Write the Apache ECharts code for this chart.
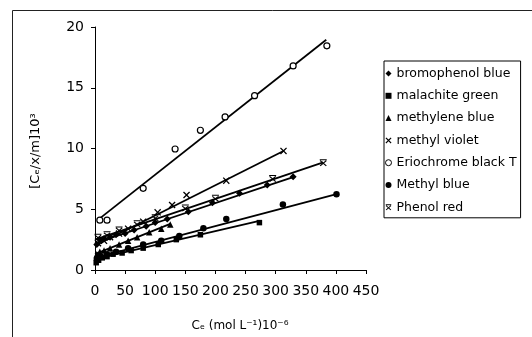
<!DOCTYPE html>
<html>
<head>
<meta charset="utf-8">
<script src="https://cdn.jsdelivr.net/npm/echarts@6/dist/echarts.min.js"></script>
<style>
html,body{margin:0;padding:0;background:#fff;}
#chart{width:532px;height:337px;}
</style>
</head>
<body>
<div id="chart"></div>
<script>
// ---- axis ticks ----
const xTicks = [0, 50, 100, 150, 200, 250, 300, 350, 400, 450];
const yTicks = [0, 5, 10, 15, 20];

// ---- series names ----
const seriesNames = ['bromophenol blue', 'malachite green', 'methylene blue', 'methyl violet', 'Eriochrome black T', 'Methyl blue', 'Phenol red'];

// ---- data ----
const bromoX = [3, 8, 15, 25, 35, 50, 65, 85, 100, 120, 155, 195, 240, 286, 329];
const bromoY = [2.1, 2.5, 2.6, 2.7, 2.9, 3.0, 3.3, 3.6, 3.9, 4.2, 4.8, 5.54, 6.31, 7.0, 7.68];
const bromoFitX = [0, 329];
const bromoFitY = [2.2, 7.65];

const malachiteX = [2, 6, 12, 20, 30, 45, 60, 80, 105, 135, 175, 273];
const malachiteY = [0.6, 0.8, 1.0, 1.1, 1.3, 1.4, 1.6, 1.8, 2.1, 2.5, 2.9, 3.9];
const malachiteFitX = [0, 273];
const malachiteFitY = [0.9, 4.05];

const methyleneX = [3, 8, 15, 25, 40, 55, 70, 90, 110, 125];
const methyleneY = [1.3, 1.5, 1.6, 1.8, 2.1, 2.4, 2.7, 3.1, 3.4, 3.75];
const methyleneFitX = [0, 125];
const methyleneFitY = [1.3, 3.8];

const violetX = [5, 15, 25, 40, 55, 80, 104, 128, 152, 218, 313];
const violetY = [2.2, 2.4, 2.7, 3.0, 3.4, 3.98, 4.75, 5.35, 6.17, 7.35, 9.8];
const violetFitX = [0, 313];
const violetFitY = [2.0, 9.8];

const eriochromeX = [8, 20, 80, 133, 175, 216, 265, 329, 385];
const eriochromeY = [4.1, 4.1, 6.72, 9.96, 11.5, 12.6, 14.35, 16.8, 18.45];
const eriochromeFitX = [8, 384];
const eriochromeFitY = [4.25, 18.95];

const mblueX = [3, 10, 20, 35, 55, 80, 110, 140, 180, 218, 312, 401];
const mblueY = [0.9, 1.1, 1.3, 1.5, 1.8, 2.1, 2.4, 2.8, 3.43, 4.2, 5.4, 6.23];
const mblueFitX = [0, 401];
const mblueFitY = [1.0, 6.25];

const phenolX = [5, 20, 40, 70, 100, 150, 200, 295, 379];
const phenolY = [2.7, 2.9, 3.3, 3.8, 4.3, 5.1, 5.9, 7.54, 8.83];
const phenolFitX = [0, 379];
const phenolFitY = [2.5, 8.85];

// ---- symbols ----
const crossPath = 'path://M0,1.3L1.3,0L5,3.7L8.7,0L10,1.3L6.3,5L10,8.7L8.7,10L5,6.3L1.3,10L0,8.7L3.7,5Z';
const starPath = 'path://M0,0L10,0L10,1.6L0,1.6Z M0,2.9L1.2,1.8L5,5.2L8.8,1.8L10,2.9L6.2,6.3L10,9.8L8.8,10.9L5,7.5L1.2,10.9L0,9.8L3.8,6.3Z';

const pair = (xs, ys) => xs.map((x, i) => [x, ys[i]]);

const defs = [
  {name: seriesNames[0], x: bromoX, y: bromoY, fx: bromoFitX, fy: bromoFitY, symbol: 'diamond', size: 7},
  {name: seriesNames[1], x: malachiteX, y: malachiteY, fx: malachiteFitX, fy: malachiteFitY, symbol: 'rect', size: 5.5},
  {name: seriesNames[2], x: methyleneX, y: methyleneY, fx: methyleneFitX, fy: methyleneFitY, symbol: 'triangle', size: 6.5},
  {name: seriesNames[3], x: violetX, y: violetY, fx: violetFitX, fy: violetFitY, symbol: crossPath, size: 7},
  {name: seriesNames[4], x: eriochromeX, y: eriochromeY, fx: eriochromeFitX, fy: eriochromeFitY, symbol: 'circle', size: 6, empty: true},
  {name: seriesNames[5], x: mblueX, y: mblueY, fx: mblueFitX, fy: mblueFitY, symbol: 'circle', size: 6.5},
  {name: seriesNames[6], x: phenolX, y: phenolY, fx: phenolFitX, fy: phenolFitY, symbol: starPath, size: 7}
];

const series = [];
defs.forEach(d => {
  series.push({
    name: 'fit ' + d.name,
    type: 'line',
    data: pair(d.fx, d.fy),
    symbol: 'none',
    silent: true,
    lineStyle: {color: '#000', width: 1.8},
    z: 2
  });
});
defs.forEach(d => {
  series.push({
    name: d.name,
    type: 'scatter',
    data: pair(d.x, d.y),
    symbol: d.symbol,
    symbolSize: d.size,
    itemStyle: d.empty ? {color: '#fff', borderColor: '#000', borderWidth: 1.2, opacity: 1}
                       : {color: '#000', opacity: 1},
    z: 3
  });
});

const FONT = 'DejaVu Sans';
const chart = echarts.init(document.getElementById('chart'), null, {renderer: 'canvas'});
chart.setOption({
  animation: false,
  backgroundColor: '#fff',
  grid: {left: 95, right: 166, top: 27, bottom: 67, containLabel: false},
  xAxis: {
    type: 'value',
    min: xTicks[0], max: xTicks[xTicks.length - 1], interval: xTicks[1] - xTicks[0],
    axisLine: {show: true, onZero: false, lineStyle: {color: '#000', width: 1}},
    axisTick: {show: true, length: 4, lineStyle: {color: '#000'}},
    axisLabel: {color: '#000', fontFamily: FONT, fontSize: 14, margin: 14},
    splitLine: {show: false}
  },
  yAxis: {
    type: 'value',
    min: yTicks[0], max: yTicks[yTicks.length - 1], interval: yTicks[1] - yTicks[0],
    axisLine: {show: true, onZero: false, lineStyle: {color: '#000', width: 1}},
    axisTick: {show: true, length: 4, lineStyle: {color: '#000'}},
    axisLabel: {color: '#000', fontFamily: FONT, fontSize: 14, margin: 11},
    splitLine: {show: false}
  },
  legend: {
    orient: 'vertical',
    left: 384, top: 61,
    padding: [6, 4, 4, 1],
    itemGap: 9.3,
    itemWidth: 6, itemHeight: 6,
    borderColor: '#000', borderWidth: 1,
    backgroundColor: '#fff',
    selectedMode: false,
    textStyle: {color: '#000', fontFamily: FONT, fontSize: 12.5},
    data: defs.map(d => ({name: d.name, icon: d.symbol,
      itemStyle: d.empty ? {color: '#fff', borderColor: '#000', borderWidth: 1} : {color: '#000'}}))
  },
  graphic: [
    {type: 'rect', shape: {x: 12.5, y: 10.5, width: 530, height: 340}, style: {fill: 'none', stroke: '#222', lineWidth: 1}, z: -10, silent: true},
    {type: 'text', x: 240, y: 326, style: {text: 'Cₑ (mol L⁻¹)10⁻⁶', font: '12px "DejaVu Sans"', fill: '#000', textAlign: 'center', textVerticalAlign: 'middle', align: 'center', verticalAlign: 'middle'}},
    {type: 'text', x: 36, y: 151, rotation: Math.PI / 2, style: {text: '[Cₑ/x/m]10³', font: '13px "DejaVu Sans"', fill: '#000', textAlign: 'center', textVerticalAlign: 'middle', align: 'center', verticalAlign: 'middle'}}
  ],
  series: series
});
</script>
</body>
</html>
